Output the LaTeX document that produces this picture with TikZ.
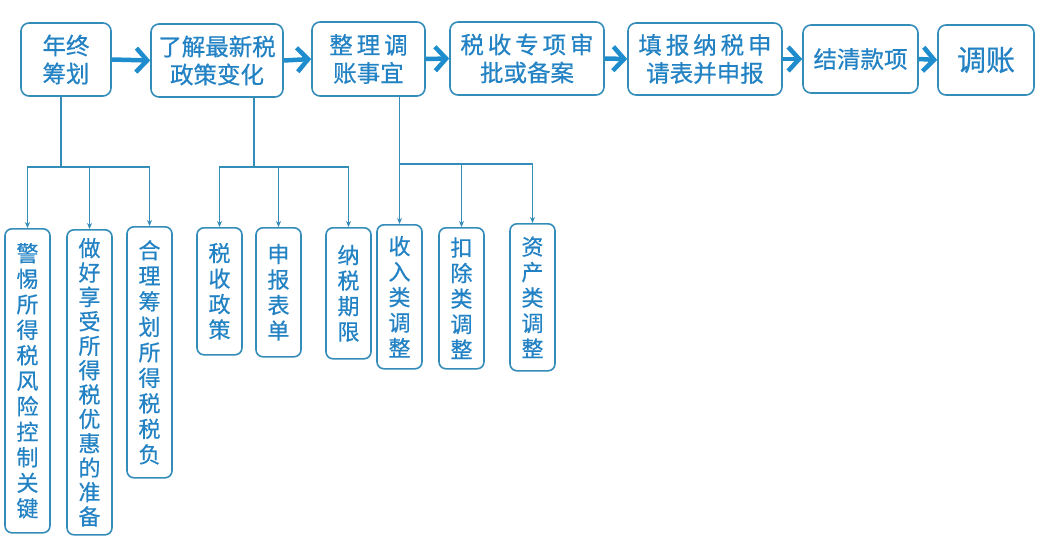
\documentclass[tikz,border=0pt]{standalone}
\usepackage{fontspec}
\setmainfont{Noto Sans CJK SC}[FakeBold=0.6]
\usetikzlibrary{arrows.meta}
\definecolor{boxline}{RGB}{52,140,185}
\definecolor{boxtext}{RGB}{35,130,195}
\definecolor{flow}{RGB}{30,140,205}
\tikzset{
    stage/.style={draw=boxline,line width=1.6pt,rounded corners=8pt,text=boxtext,
        align=center,inner sep=0pt,font=\fontsize{23.5}{28}\selectfont},
    item/.style={draw=boxline,line width=1.6pt,rounded corners=7pt,text=boxtext,
        align=center,inner sep=0pt,anchor=north,minimum width=45pt,
        font=\fontsize{22}{25.5}\selectfont},
    next/.style={draw=flow,line width=4.5pt,-{Straight Barb[length=11pt,width=24pt]}},
    link/.style={draw=boxline,line width=1.2pt},
    branch/.style={link,-{Stealth[length=6pt,width=5pt]}}
}
\begin{document}
\begin{tikzpicture}[x=1pt,y=-1pt]
    \useasboundingbox (0,0) rectangle (1050,546);
    % main flow
    \node[stage,minimum width=90pt,minimum height=73pt] (nd) at (66,59.5){年终\\筹划};
    \node[stage,minimum width=132pt,minimum height=73pt] (zc) at (217,60.5){了解最新税\\政策变化};
    \node[stage,minimum width=113pt,minimum height=74pt] (zl) at (368.5,59){整\,理\,调\\账事宜};
    \node[stage,minimum width=154pt,minimum height=73pt] (sp) at (527,58.5){税\,收\,专\,项\,审\\批或备案};
    \node[stage,minimum width=154pt,minimum height=72pt] (tb) at (705,59){填\,报\,纳\,税\,申\\请表并申报};
    \node[stage,minimum width=115pt,minimum height=68pt] (jq) at (860.5,59){结清款项};
    \node[stage,minimum width=96pt,minimum height=70pt,font=\fontsize{29}{32}\selectfont] (tz) at (986,60){调账};

    \draw[next] (nd.east) -- (zc.west);
    \draw[next] (zc.east) -- (zl.west);
    \draw[next] (zl.east) -- (sp.west);
    \draw[next] (sp.east) -- (tb.west);
    \draw[next] (tb.east) -- (jq.west);
    \draw[next] (jq.east) -- (tz.west);

    % details
    \node[item,minimum height=304pt] (jt) at (27.5,228){警\\惕\\所\\得\\税\\风\\险\\控\\制\\关\\键};
    \node[item,minimum height=305pt,font=\fontsize{22}{24.4}\selectfont] (yh) at (89.5,229){做\\好\\享\\受\\所\\得\\税\\优\\惠\\的\\准\\备};
    \node[item,minimum height=251pt] (sf) at (149.5,226){合\\理\\筹\\划\\所\\得\\税\\税\\负};
    \node[item,minimum height=127pt] (zhc) at (219.5,227){税\\收\\政\\策};
    \node[item,minimum height=129pt] (bd) at (278.5,227){申\\报\\表\\单};
    \node[item,minimum height=131pt] (qx) at (348.5,227){纳\\税\\期\\限};
    \node[item,minimum height=144pt] (sr) at (399.5,224){收\\入\\类\\调\\整};
    \node[item,minimum height=141pt] (kc) at (461.5,227){扣\\除\\类\\调\\整};
    \node[item,minimum height=147pt] (zcl) at (532.5,223){资\\产\\类\\调\\整};

    \coordinate (b1) at (61,167);
    \coordinate (b2) at (254,167);
    \coordinate (b3) at (399.5,164);

    \draw[link] (nd.south -| b1) -- (b1);
    \draw[branch] (b1) -| (jt.north);
    \draw[branch] (b1) -| (yh.north);
    \draw[branch] (b1) -| (sf.north);

    \draw[link] (zc.south -| b2) -- (b2);
    \draw[branch] (b2) -| (zhc.north);
    \draw[branch] (b2) -| (bd.north);
    \draw[branch] (b2) -| (qx.north);

    \draw[branch] (zl.south -| b3) -- (sr.north);
    \draw[branch] (b3) -| (kc.north);
    \draw[branch] (b3) -| (zcl.north);
\end{tikzpicture}
\end{document}
